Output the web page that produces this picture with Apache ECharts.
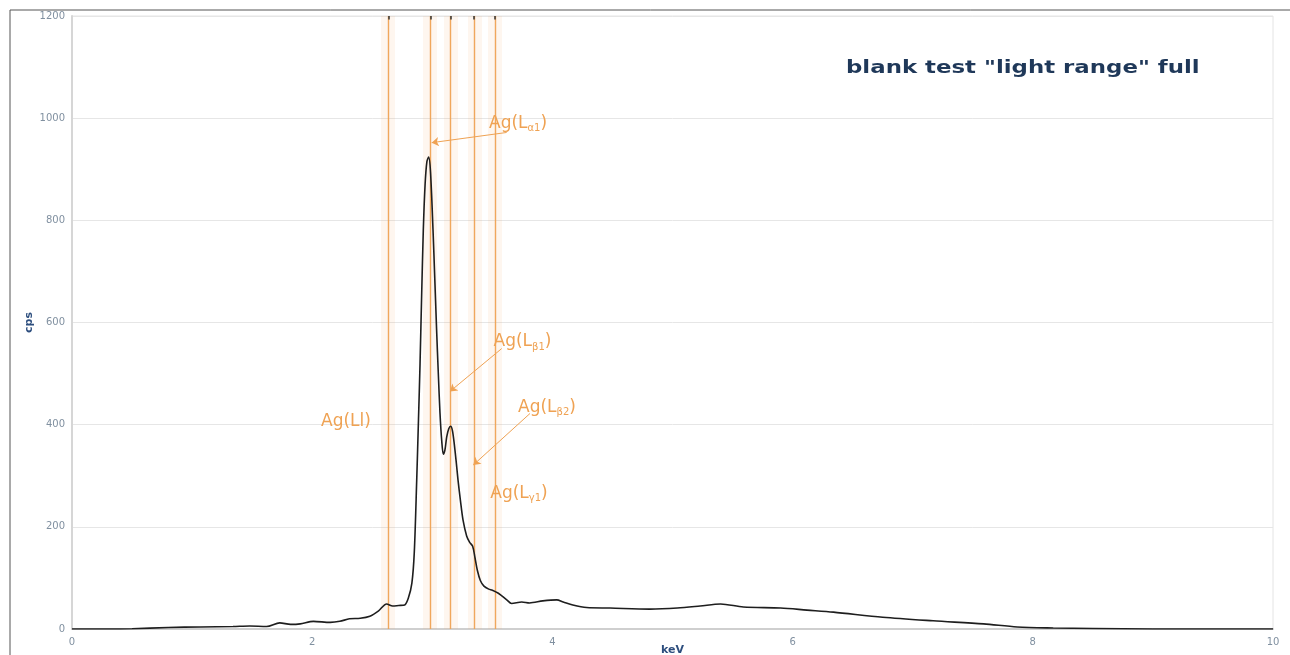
<!DOCTYPE html>
<html>
<head>
<meta charset="utf-8">
<script src="https://cdn.jsdelivr.net/npm/echarts@6/dist/echarts.min.js"></script>
<style>html,body{margin:0;padding:0;background:#fff;}#c{width:1290px;height:655px;}</style>
</head>
<body>
<div id="c"></div>
<script>
// Spectrum (keV vs cps)
const keV = [0, 0.3, 0.5, 0.8, 1.07, 1.34, 1.48, 1.62, 1.73, 1.82, 1.9, 2.01, 2.15, 2.23, 2.31, 2.40, 2.48, 2.55, 2.62, 2.67, 2.72, 2.77, 2.80, 2.83, 2.85, 2.87, 2.885, 2.898, 2.912, 2.925, 2.94, 2.955, 2.97, 2.985, 3.006, 3.02, 3.036, 3.05, 3.064, 3.078, 3.092, 3.105, 3.12, 3.137, 3.153, 3.168, 3.184, 3.2, 3.214, 3.235, 3.256, 3.286, 3.31, 3.336, 3.355, 3.375, 3.40, 3.43, 3.47, 3.50, 3.55, 3.62, 3.66, 3.745, 3.81, 3.92, 4.036, 4.09, 4.17, 4.285, 4.48, 4.81, 5.04, 5.23, 5.4, 5.59, 5.9, 6.12, 6.34, 6.75, 7.17, 7.59, 7.87, 8.17, 8.5, 9, 9.5, 10];
const cps = [0, 0, 0.5, 3, 4, 5, 6, 5, 12, 9, 10, 15, 13, 15, 20, 21, 25, 35, 49, 45, 46, 47, 60, 90, 150, 290, 410, 520, 660, 780, 870, 915, 924, 895, 781, 690, 585, 500, 423, 370, 342, 350, 376, 392, 397, 388, 360, 325, 292, 250, 213, 182, 170, 162, 140, 115, 95, 84, 78, 76, 70, 57, 50, 53, 51, 55, 57, 53, 47, 42, 41, 39, 41, 45, 49, 43, 41, 37, 33, 23, 16, 10, 4, 2, 1, 0, 0, 0];

// Ag L lines (keV)
const lineNames = ['l', 'α1', 'β1', 'β2', 'γ1'];
const lineEnergies = [2.634, 2.984, 3.151, 3.348, 3.520];

// Annotation text positions (keV, cps)
const noteX = [2.281, 3.714, 3.751, 3.955, 3.722];
const noteY = [406, 990, 562, 434, 266];
// Arrows: from text to line
const arrowFrom = [[3.619, 972], [3.578, 549], [3.814, 422]];
const arrowTo = [[2.995, 952], [3.147, 465], [3.341, 321]];

const xTicks = {min: 0, max: 10, interval: 2};
const yTicks = {min: 0, max: 1200, interval: 200};

const orange = '#efa253';
const chart = echarts.init(document.getElementById('c'));

const noteData = lineNames.map((n, i) => [noteX[i], noteY[i], i]);
const richStyle = {
  m: {fontFamily: 'DejaVu Sans', fontSize: 17, fill: orange, lineHeight: 20},
  s: {fontFamily: 'DejaVu Sans', fontSize: 10, fill: orange, lineHeight: 10, verticalAlign: 'bottom'}
};

chart.setOption({
  animation: false,
  backgroundColor: '#fff',
  graphic: [{
    type: 'rect', shape: {x: 10, y: 10, width: 1320, height: 700},
    style: {fill: 'none', stroke: '#555', lineWidth: 1}, silent: true
  }, {
    type: 'text', x: 846, y: 68, scaleX: 1.27, silent: true,
    style: {
      text: 'blank test "light range" full',
      font: 'bold 18px "DejaVu Sans"', fill: '#1f3859',
      align: 'left', verticalAlign: 'middle'
    }
  }],
  grid: {left: 72, right: 17, top: 16, bottom: 26, show: true, borderColor: '#e4e4e4', borderWidth: 1,
         outerBoundsMode: 'none', containLabel: false},
  xAxis: {
    type: 'value', min: xTicks.min, max: xTicks.max, interval: xTicks.interval,
    name: 'keV', nameLocation: 'middle', nameGap: 16, nameMoveOverlap: false,
    nameTextStyle: {fontFamily: 'DejaVu Sans', fontWeight: 'bold', fontSize: 11, color: '#2d4e7e'},
    axisLine: {show: true, lineStyle: {color: '#cfcfcf', width: 2}},
    axisTick: {show: false},
    splitLine: {show: false},
    axisLabel: {color: '#8090a0', fontSize: 10, fontFamily: 'DejaVu Sans', margin: 8}
  },
  yAxis: {
    type: 'value', min: yTicks.min, max: yTicks.max, interval: yTicks.interval,
    name: 'cps', nameLocation: 'middle', nameGap: 37, nameRotate: 90, nameMoveOverlap: false,
    nameTextStyle: {fontFamily: 'DejaVu Sans', fontWeight: 'bold', fontSize: 11, color: '#2d4e7e'},
    axisLine: {show: true, lineStyle: {color: '#d6d6d6', width: 2}},
    axisTick: {show: false},
    splitLine: {show: true, lineStyle: {color: '#e6e6e6', width: 1}},
    axisLabel: {color: '#8090a0', fontSize: 10, fontFamily: 'DejaVu Sans', margin: 7,
                formatter: v => String(v)}
  },
  series: [
    {
      type: 'line', data: [], silent: true,
      markLine: {
        silent: true, symbol: 'none', label: {show: false},
        lineStyle: {color: 'rgba(245,170,100,0.10)', width: 14, type: 'solid'},
        data: lineEnergies.map(e => ({xAxis: e}))
      }
    },
    {
      type: 'line', data: [], silent: true,
      markLine: {
        silent: true, symbol: 'none', label: {show: false},
        lineStyle: {color: orange, width: 1.4, type: 'solid', opacity: 0.95},
        data: lineEnergies.map(e => ({xAxis: e}))
      }
    },
    {
      type: 'line', data: [], silent: true,
      markLine: {
        silent: true, symbol: 'none', label: {show: false},
        lineStyle: {color: '#333', width: 1.5, type: 'solid'},
        data: lineEnergies.map(e => [{coord: [e, 1200]}, {coord: [e, 1193]}])
      }
    },
    {
      type: 'line',
      data: keV.map((k, i) => [k, cps[i]]),
      showSymbol: false, smooth: 0.3,
      lineStyle: {color: '#1e1e1e', width: 1.6},
      z: 5
    },
    {
      type: 'line', data: [], silent: true,
      markLine: {
        silent: true, symbol: ['none', 'arrow'], symbolSize: 7, label: {show: false},
        lineStyle: {color: orange, width: 1, type: 'solid'},
        data: arrowFrom.map((f, i) => [{coord: f}, {coord: arrowTo[i]}])
      },
      z: 6
    },
    {
      type: 'custom', silent: true, z: 7,
      data: noteData,
      renderItem: (params, api) => {
        const p = api.coord([api.value(0), api.value(1)]);
        const i = api.value(2);
        const n = lineNames[i];
        const txt = i === 0 ? '{m|Ag(L' + n + ')}' : '{m|Ag(L}{s|' + n + '}{m|)}';
        return {
          type: 'text', x: p[0], y: p[1],
          style: {text: txt, rich: richStyle, align: 'center', verticalAlign: 'middle'}
        };
      }
    }
  ]
});
</script>
</body>
</html>
